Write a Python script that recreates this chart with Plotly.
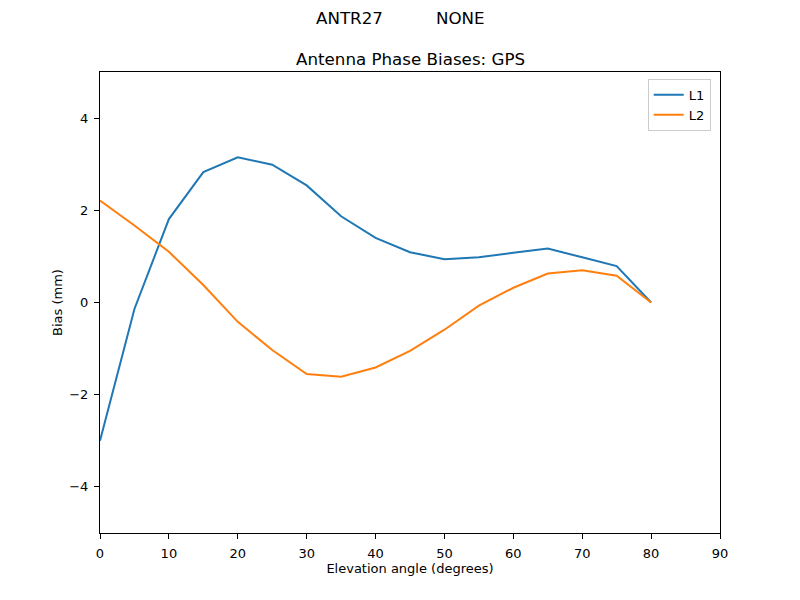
import plotly.graph_objects as go

elev = [0, 5, 10, 15, 20, 25, 30, 35, 40, 45, 50, 55, 60, 65, 70, 75, 80]
l1 = [-3.0, -0.14, 1.81, 2.83, 3.15, 2.99, 2.54, 1.87, 1.40, 1.09, 0.94, 0.98, 1.08, 1.17, 0.98, 0.79, 0.0]
l2 = [2.21, 1.67, 1.10, 0.38, -0.42, -1.03, -1.55, -1.61, -1.41, -1.05, -0.59, -0.07, 0.32, 0.63, 0.70, 0.58, 0.0]
x_ticks = [0, 10, 20, 30, 40, 50, 60, 70, 80, 90]
y_ticks = [-4, -2, 0, 2, 4]
y_tick_text = ["\u22124", "\u22122", "0", "2", "4"]

FONT = "DejaVu Sans"
OFF = 8  # browser body margin
W, H = 800 - OFF, 600 - OFF
PLOT_LEFT, PLOT_RIGHT = 100 - OFF, 720 - OFF
PLOT_TOP, PLOT_BOTTOM = 72 - OFF, 533 - OFF
def paper_y(py):
    return (PLOT_BOTTOM - (py - OFF)) / (PLOT_BOTTOM - PLOT_TOP)
def paper_x(px):
    return ((px - OFF) - PLOT_LEFT) / (PLOT_RIGHT - PLOT_LEFT)

fig = go.Figure()
fig.add_trace(go.Scatter(x=elev, y=l1, mode="lines", name="L1",
                         line=dict(color="#1f77b4", width=2)))
fig.add_trace(go.Scatter(x=elev, y=l2, mode="lines", name="L2",
                         line=dict(color="#ff7f0e", width=2)))

axis_common = dict(showline=True, linecolor="black", linewidth=1, mirror=True,
                   ticks="outside", ticklen=5, tickcolor="black", showgrid=False,
                   zeroline=False, automargin=False, ticklabelstandoff=3,
                   tickfont=dict(family=FONT, size=13, color="black"))
fig.update_layout(
    width=W, height=H,
    plot_bgcolor="white", paper_bgcolor="white",
    margin=dict(l=PLOT_LEFT, r=W - PLOT_RIGHT, t=PLOT_TOP, b=H - PLOT_BOTTOM),
    font=dict(family=FONT, size=13, color="black"),
    xaxis=dict(range=[0, 90], tickvals=x_ticks, title=dict(text="Elevation angle (degrees)", standoff=4,
               font=dict(family=FONT, size=13)), **axis_common),
    yaxis=dict(range=[-5, 5], tickvals=y_ticks, ticktext=y_tick_text,
               title=dict(text="Bias (mm)", standoff=3, font=dict(family=FONT, size=13)), **axis_common),
    legend=dict(x=0.985, y=0.985, xanchor="right", yanchor="top",
                bordercolor="#cccccc", borderwidth=1, bgcolor="white",
                font=dict(family=FONT, size=13)),
    showlegend=True,
    annotations=[
        dict(text="ANTR27          NONE", x=paper_x(400), y=paper_y(18), xref="paper", yref="paper",
             xanchor="center", yanchor="middle", showarrow=False,
             font=dict(family=FONT, size=16.7)),
        dict(text="Antenna Phase Biases: GPS", x=0.5, y=paper_y(59), xref="paper", yref="paper",
             xanchor="center", yanchor="middle", showarrow=False,
             font=dict(family=FONT, size=16.7)),
    ],
)
fig.write_html("out.html")
